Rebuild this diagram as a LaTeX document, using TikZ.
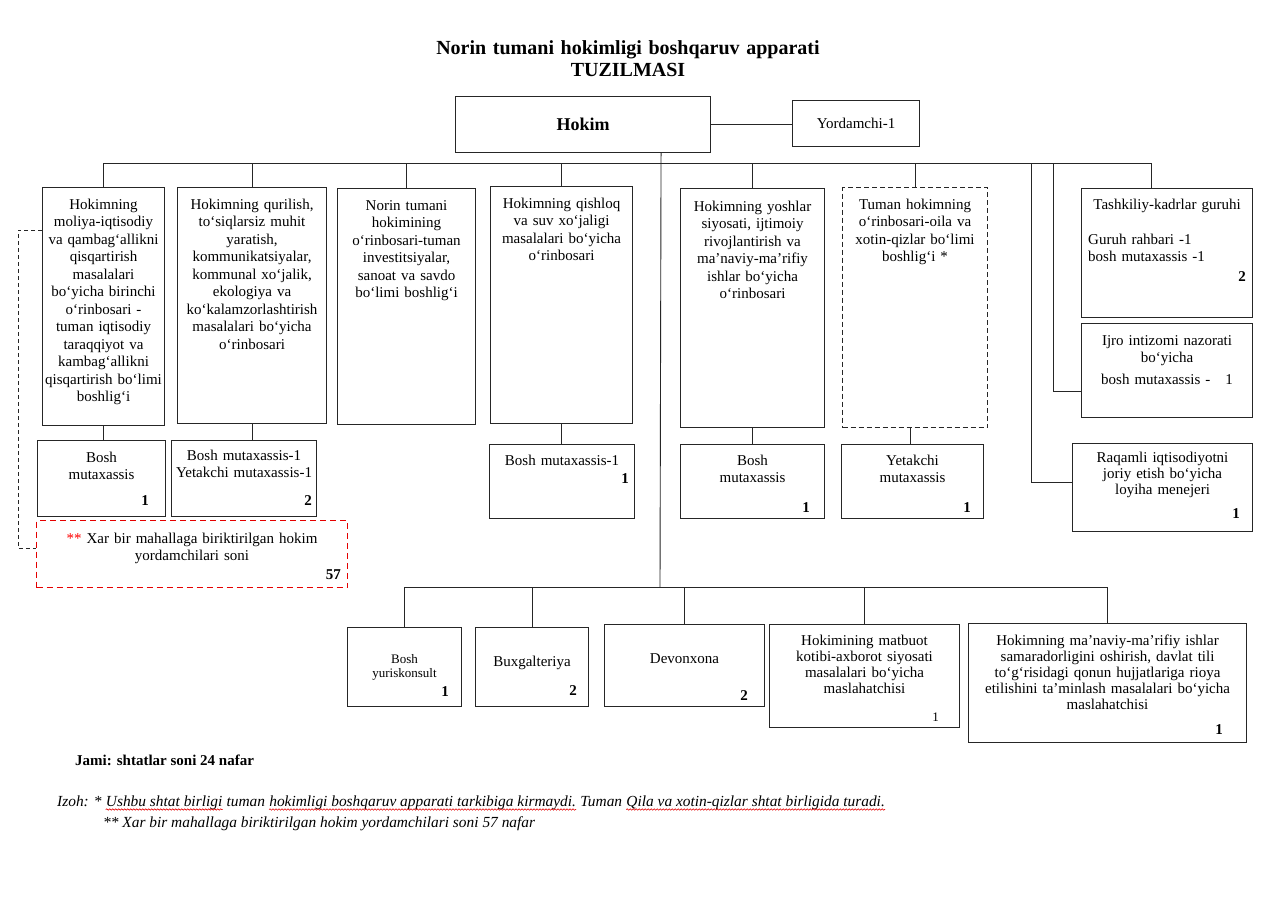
\documentclass[tikz,border=0pt]{standalone}
\usepackage{fontspec}
\setmainfont{Liberation Serif}
\usetikzlibrary{calc,decorations.pathmorphing}
\newcommand{\sm}{\fontsize{15}{17.5}\selectfont}
\newcommand{\smt}{\fontsize{15}{16}\selectfont}
\tikzset{
  unit/.style  = {draw=black!85, line width=1.1pt, anchor=north west, inner sep=0pt},
  dunit/.style = {unit, dash pattern=on 5pt off 3pt},
  runit/.style = {unit, draw=red!90!black, dash pattern=on 6pt off 4pt},
  txt/.style   = {anchor=base, align=center, inner sep=0pt, text width=#1, font=\sm},
  num/.style   = {anchor=base east, inner sep=0pt, font=\sm\bfseries},
  link/.style  = {draw=black!85, line width=0.9pt},
  foot/.style  = {anchor=base west, inner sep=0pt, font=\itshape\fontsize{15.4}{17}\selectfont},
  wave/.style  = {draw=red!90!black, line width=0.6pt, decorate,
                  decoration={snake, amplitude=0.7pt, segment length=3pt}}
}
\begin{document}
\begin{tikzpicture}[x=1pt,y=-1pt]
  \path[fill=white] (0,0) rectangle (1280,908);
  % ---- title ----
  \node[txt=600, font=\bfseries\fontsize{20}{22}\selectfont] (title) at (628,54)
    {Norin tumani hokimligi boshqaruv apparati\\TUZILMASI};

  % ---- hokim ----
  \node[unit, minimum width=255, minimum height=56, font=\bfseries\fontsize{18}{20}\selectfont] (hokim) at (455,96) {Hokim};
  \node[unit, minimum width=127, minimum height=46, font=\sm] (yord) at (792,100) {Yordamchi-1};
  \draw[link] (hokim.east) -- (hokim.east -| yord.west);
  \coordinate (tr0) at ([xshift=78]hokim.south);
  \coordinate (bus1) at (660,163);
  \coordinate (bus2) at (660,587);
  \draw[link] (tr0) -- (bus2);

  % ---- top row ----
  \node[unit, minimum width=122, minimum height=238] (moliya) at (42,187) {};
  \node[txt=150] (t-moliya) at ([yshift=-22]moliya.north) {Hokimning\\moliya-iqtisodiy\\va qambag‘allikni\\qisqartirish\\masalalari\\bo‘yicha birinchi\\o‘rinbosari -\\tuman iqtisodiy\\taraqqiyot va\\kambag‘allikni\\qisqartirish bo‘limi\\boshlig‘i};
  \node[unit, minimum width=149, minimum height=236] (qurilish) at (177,187) {};
  \node[txt=180] (t-qurilish) at ([yshift=-22]qurilish.north) {Hokimning qurilish,\\to‘siqlarsiz muhit\\yaratish,\\kommunikatsiyalar,\\kommunal xo‘jalik,\\ekologiya va\\ko‘kalamzorlashtirish\\masalalari bo‘yicha\\o‘rinbosari};
  \node[unit, minimum width=138, minimum height=236] (invest) at (337,188) {};
  \node[txt=170] (t-invest) at ([yshift=-22]invest.north) {Norin tumani\\hokimining\\o‘rinbosari-tuman\\investitsiyalar,\\sanoat va savdo\\bo‘limi boshlig‘i};
  \node[unit, minimum width=142, minimum height=237] (qishloq) at (490,186) {};
  \node[txt=170] (t-qishloq) at ([yshift=-22]qishloq.north) {Hokimning qishloq\\va suv xo‘jaligi\\masalalari bo‘yicha\\o‘rinbosari};
  \node[unit, minimum width=144, minimum height=239] (yoshlar) at (680,188) {};
  \node[txt=170] (t-yoshlar) at ([yshift=-23]yoshlar.north) {Hokimning yoshlar\\siyosati, ijtimoiy\\rivojlantirish va\\ma’naviy-ma’rifiy\\ishlar bo‘yicha\\o‘rinbosari};
  \node[dunit, minimum width=145, minimum height=240] (oila) at (842,187) {};
  \node[txt=170] (t-oila) at ([yshift=-22]oila.north) {Tuman hokimning\\o‘rinbosari-oila va\\xotin-qizlar bo‘limi\\boshlig‘i *};
  \foreach \u in {moliya,qurilish,invest,qishloq,yoshlar,oila}
    \draw[link] (\u.north) |- (bus1);

  % ---- right column ----
  \node[unit, minimum width=171, minimum height=129] (tashkil) at (1081,188) {};
  \node[txt=171] (t-tashkil) at ([yshift=-21]tashkil.north) {Tashkiliy-kadrlar guruhi};
  \node[txt=160, align=left, anchor=base west] (t-tashkil2) at ([xshift=7,yshift=-56]tashkil.north west) {Guruh rahbari -1\\bosh mutaxassis -1};
  \node[num] (n-tashkil) at ([xshift=-7,yshift=37]tashkil.south east) {2};
  \node[unit, minimum width=171, minimum height=94] (ijro) at (1081,323) {};
  \node[txt=171] (t-ijro) at ([yshift=-22]ijro.north) {Ijro intizomi nazorati\\bo‘yicha\\[4pt]bosh mutaxassis -\quad 1};
  \node[unit, minimum width=180, minimum height=88] (raqam) at (1072,443) {};
  \node[txt=180, font=\smt] (t-raqam) at ([yshift=-19]raqam.north) {Raqamli iqtisodiyotni\\joriy etish bo‘yicha\\loyiha menejeri};
  \node[num] (n-raqam) at ([xshift=-13,yshift=14]raqam.south east) {1};
  \coordinate (ijroT) at (1053,163);
  \coordinate (raqT) at (1031,163);
  \draw[link] ([xshift=-16]tashkil.north) |- (bus1);
  \draw[link] (ijroT) |- ([yshift=-21]ijro.west);
  \draw[link] (raqT) |- ([yshift=5]raqam.west);

  % ---- second row ----
  \node[unit, minimum width=128, minimum height=76] (mbosh) at (37,440) {};
  \node[txt=128] (t-mbosh) at ([yshift=-22]mbosh.north) {Bosh\\mutaxassis};
  \node[num] (n-mbosh) at ([xshift=-17,yshift=12]mbosh.south east) {1};
  \node[unit, minimum width=145, minimum height=76] (qbosh) at (171,440) {};
  \node[txt=170] (t-qbosh) at ([yshift=-20]qbosh.north) {Bosh mutaxassis-1\\Yetakchi mutaxassis-1};
  \node[num] (n-qbosh) at ([xshift=-5,yshift=12]qbosh.south east) {2};
  \node[runit, minimum width=311, minimum height=67] (mahalla) at (36,520) {};
  \node[txt=311] (t-mahalla) at ([yshift=-23]mahalla.north) {\textcolor{red}{**} Xar bir mahallaga biriktirilgan hokim\\yordamchilari soni};
  \node[num] (n-mahalla) at ([xshift=-7,yshift=9]mahalla.south east) {57};
  \node[unit, minimum width=145, minimum height=74] (qsbosh) at (489,444) {};
  \node[txt=145] (t-qsbosh) at ([yshift=-21]qsbosh.north) {Bosh mutaxassis-1};
  \node[num] (n-qsbosh) at ([xshift=-6,yshift=36]qsbosh.south east) {1};
  \node[unit, minimum width=144, minimum height=74] (ybosh) at (680,444) {};
  \node[txt=144] (t-ybosh) at ([yshift=-21]ybosh.north) {Bosh\\mutaxassis};
  \node[num] (n-ybosh) at ([xshift=-15,yshift=7]ybosh.south east) {1};
  \node[unit, minimum width=142, minimum height=74] (oyet) at (841,444) {};
  \node[txt=142] (t-oyet) at ([yshift=-21]oyet.north) {Yetakchi\\mutaxassis};
  \node[num] (n-oyet) at ([xshift=-13,yshift=7]oyet.south east) {1};
  \draw[link] (moliya.south) -- (moliya.south |- mbosh.north);
  \draw[link] (qurilish.south) -- (qurilish.south |- qbosh.north);
  \draw[link] (qishloq.south) -- (qishloq.south |- qsbosh.north);
  \draw[link] (yoshlar.south) -- (yoshlar.south |- ybosh.north);
  \draw[link] ([xshift=-5]oila.south) -- ([xshift=-5]oila.south |- oyet.north);
  \coordinate (side) at (18,230);
  \draw[link, dash pattern=on 4pt off 3pt] (side -| moliya.west) -- (side) |- ([yshift=6]mahalla.west);

  % ---- bottom row ----
  \node[unit, minimum width=114, minimum height=79] (yurist) at (347,627) {};
  \node[txt=114, font=\fontsize{13}{14.5}\selectfont] (t-yurist) at ([yshift=-36]yurist.north) {Bosh\\yuriskonsult};
  \node[num] (n-yurist) at ([xshift=-13,yshift=11]yurist.south east) {1};
  \node[unit, minimum width=113, minimum height=79] (buxg) at (475,627) {};
  \node[txt=113] (t-buxg) at ([yshift=-39]buxg.north) {Buxgalteriya};
  \node[num] (n-buxg) at ([xshift=-12,yshift=12]buxg.south east) {2};
  \node[unit, minimum width=160, minimum height=82] (devon) at (604,624) {};
  \node[txt=160] (t-devon) at ([yshift=-39]devon.north) {Devonxona};
  \node[num] (n-devon) at ([xshift=-17,yshift=7]devon.south east) {2};
  \node[unit, minimum width=190, minimum height=103] (matbuot) at (769,624) {};
  \node[txt=190, font=\smt] (t-matbuot) at ([yshift=-21]matbuot.north) {Hokimining matbuot\\kotibi-axborot siyosati\\masalalari bo‘yicha\\maslahatchisi};
  \node[num, font=\fontsize{13}{14}\selectfont] (n-matbuot) at ([xshift=-21,yshift=7]matbuot.south east) {1};
  \node[unit, minimum width=278, minimum height=119] (manav) at (968,623) {};
  \node[txt=300, font=\smt] (t-manav) at ([yshift=-22]manav.north) {Hokimning ma’naviy-ma’rifiy ishlar\\samaradorligini oshirish, davlat tili\\to‘g‘risidagi qonun hujjatlariga rioya\\etilishini ta’minlash masalalari bo‘yicha\\maslahatchisi};
  \node[num] (n-manav) at ([xshift=-24,yshift=9]manav.south east) {1};
  \foreach \u in {yurist,buxg,devon,matbuot,manav}
    \draw[link] (\u.north) |- (bus2);

  % ---- notes ----
  \node[foot, font=\upshape\bfseries\fontsize{15}{17}\selectfont] (jami) at (75,765) {Jami: shtatlar soni 24 nafar};
  \node[foot] (iz0) at (57,806) {Izoh: *};
  \node[foot] (iz1) at ([xshift=3.85]iz0.base east) {Ushbu shtat birligi};
  \node[foot] (iz2) at ([xshift=3.85]iz1.base east) {tuman};
  \node[foot] (iz3) at ([xshift=3.85]iz2.base east) {hokimligi boshqaruv apparati tarkibiga kirmaydi.};
  \node[foot] (iz4) at ([xshift=3.85]iz3.base east) {Tuman};
  \node[foot] (iz5) at ([xshift=3.85]iz4.base east) {Qila va xotin-qizlar shtat birligida turadi.};
  \foreach \w in {iz1,iz3,iz5}
    \draw[wave] ([yshift=-3.5]\w.base west) -- ([yshift=-3.5]\w.base east);
  \node[foot] (iz6) at (103,827) {** Xar bir mahallaga biriktirilgan hokim yordamchilari soni 57 nafar};
  \useasboundingbox (0,0) rectangle (1280,908);
\end{tikzpicture}
\end{document}
